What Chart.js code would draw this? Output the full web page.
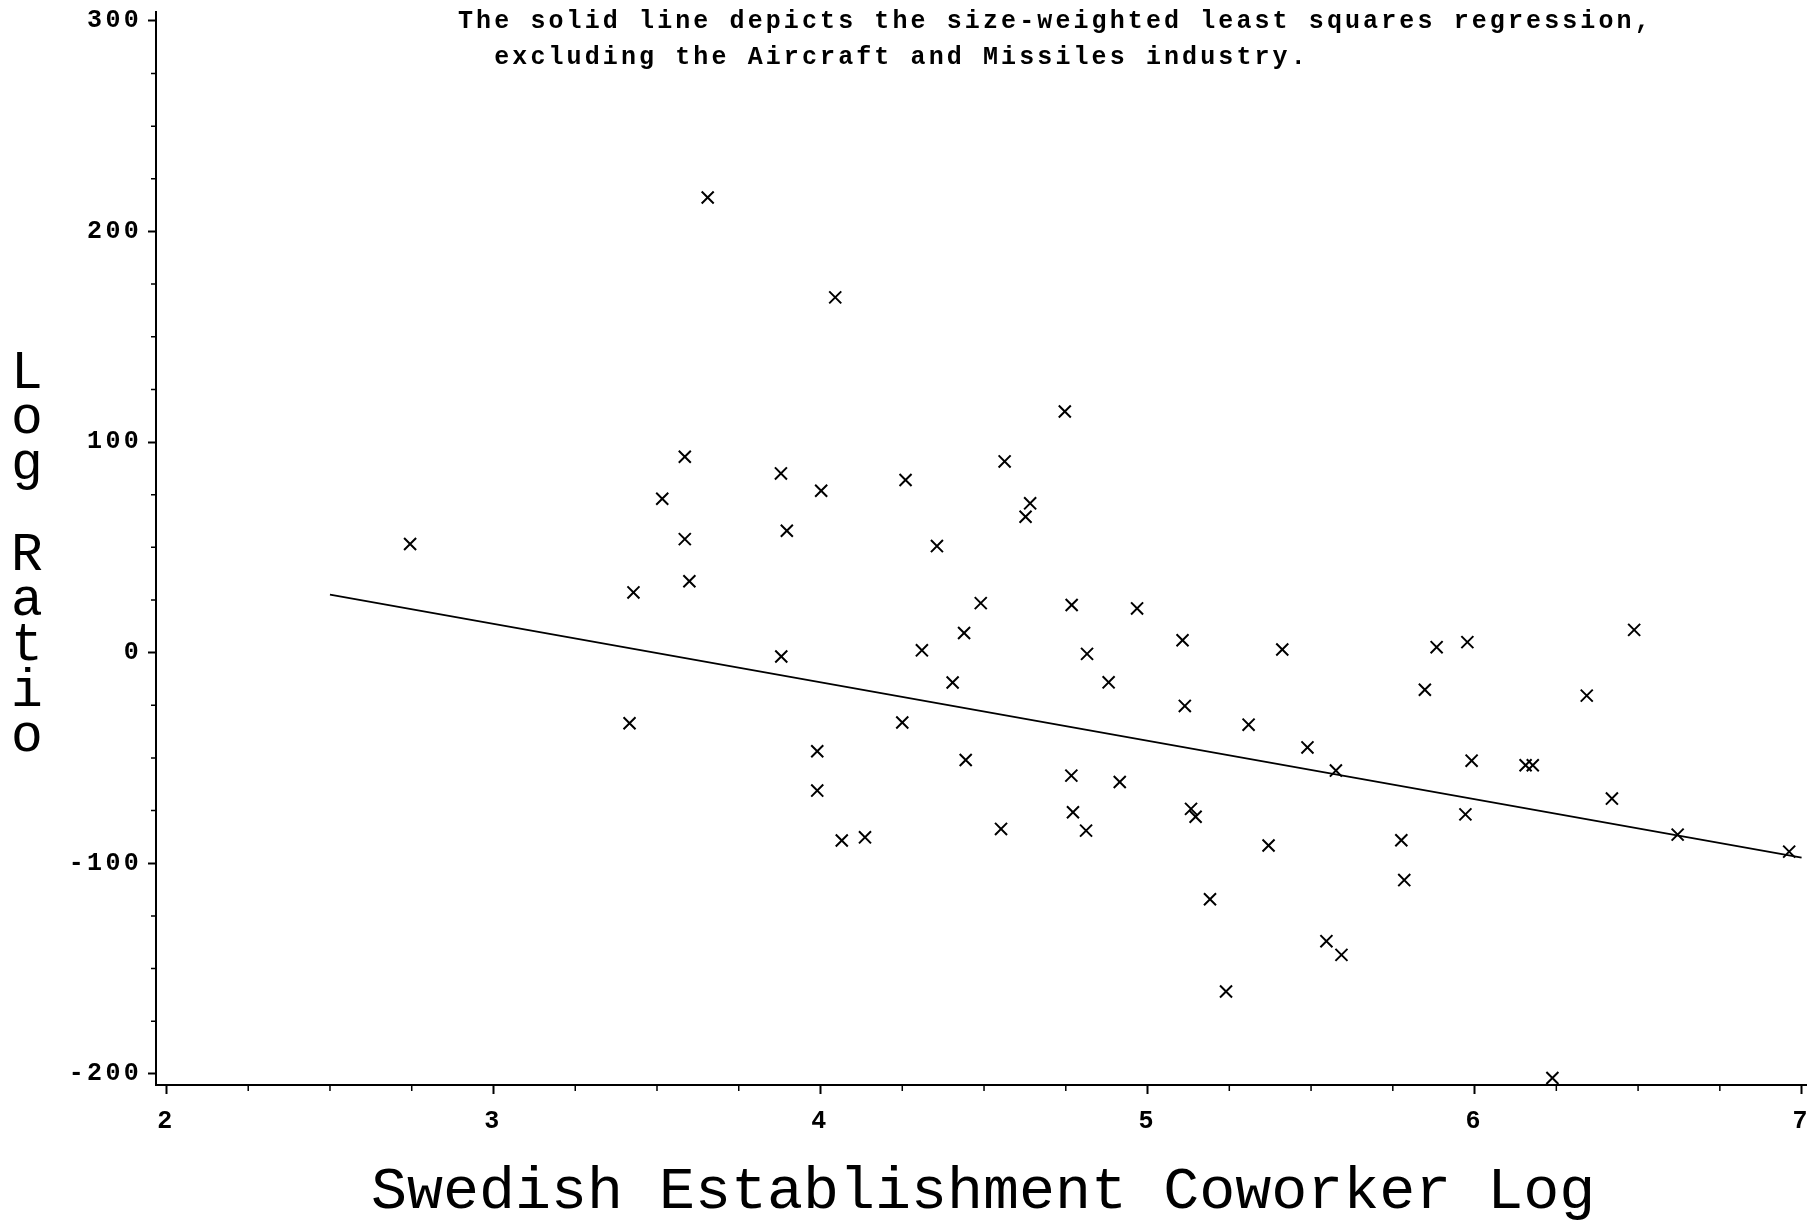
<!DOCTYPE html>
<html>
<head>
<meta charset="utf-8">
<script src="https://cdn.jsdelivr.net/npm/chart.js@4/dist/chart.umd.min.js"></script>
<style>
html,body{margin:0;padding:0;background:#fff;}
#wrap{position:relative;width:1817px;height:1221px;overflow:hidden;background:#fff;}
#c{position:absolute;left:0;top:0;}
.note{position:absolute;left:458px;top:4px;font-family:"Courier New",Courier,"Nimbus Mono PS",FreeMono,"Liberation Mono",monospace;font-weight:bold;font-size:25px;letter-spacing:3.1px;line-height:35.5px;white-space:pre;color:#000;}
.xt{position:absolute;left:371px;top:1162px;font-family:"Courier New",Courier,"Nimbus Mono PS",FreeMono,"Liberation Mono",monospace;font-size:60px;line-height:60px;white-space:pre;color:#000;}
.yt{position:absolute;left:0;top:352px;width:54px;text-align:center;font-family:"Courier New",Courier,"Nimbus Mono PS",FreeMono,"Liberation Mono",monospace;font-size:53px;line-height:45.4px;white-space:pre;color:#000;}
</style>
</head>
<body>
<div id="wrap">
<canvas id="c" width="1817" height="1221"></canvas>
<div class="note" id="note"></div>
<div class="xt" id="xt"></div>
<div class="yt" id="yt"></div>
</div>
<script>
// ---- data ----
const xValues = [2.745, 3.655, 4.045, 3.428, 3.416, 3.516, 3.585, 3.585, 3.599, 3.879,
  3.897, 4.002, 3.880, 3.990, 3.990, 4.065, 4.136, 4.260, 4.250, 4.310,
  4.356, 4.404, 4.439, 4.444, 4.490, 4.552, 4.563, 4.627, 4.641, 4.747,
  4.768, 4.767, 4.772, 4.812, 4.815, 4.881, 4.915, 4.968, 5.107, 5.114,
  5.133, 5.147, 5.191, 5.240, 5.309, 5.370, 5.412, 5.489, 5.547, 5.576,
  5.593, 5.776, 5.785, 5.848, 5.884, 5.972, 5.978, 5.991, 6.156, 6.178,
  6.238, 6.343, 6.420, 6.488, 6.621, 6.962];
const yValues = [51.6, 216.1, 168.7, 28.6, -33.5, 73.1, 93.0, 53.9, 33.9, 85.1,
  57.9, 76.9, -1.8, -46.8, -65.5, -89.2, -87.7, 82.0, -33.2, 1.1,
  50.6, -14.2, 9.3, -51.0, 23.5, -83.7, 90.8, 64.5, 70.9, 114.5,
  22.6, -58.4, -75.8, -84.5, -0.6, -14.1, -61.4, 21.0, 5.9, -25.3,
  -74.2, -77.9, -117.1, -160.9, -34.2, -91.6, 1.5, -45.0, -137.0, -56.0,
  -143.5, -89.1, -108.0, -17.6, 2.6, -76.8, 5.0, -51.3, -53.5, -53.5,
  -202.0, -20.4, -69.3, 10.8, -86.4, -94.5];
const fitX = [2.5, 7.0];
const fitY = [27.5, -97.3];
const xTickValues = [2, 3, 4, 5, 6, 7];
const yTickValues = [-200, -100, 0, 100, 200, 300];
const xMinorStep = 0.25;
const yMinorStep = 25;
const noteText = "The solid line depicts the size-weighted least squares regression,\n  excluding the Aircraft and Missiles industry.";
const xTitle = "Swedish Establishment Coworker Log";
const yTitle = "Log Ratio";

document.getElementById('note').textContent = noteText;
document.getElementById('xt').textContent = xTitle;
document.getElementById('yt').textContent = yTitle.split('').join('\n');

const tickFont = {family: 'Liberation Mono', size: 25, weight: 'bold'};

const axisExtras = {
  id: 'axisExtras',
  beforeDraw(chart) { chart.ctx.letterSpacing = '3.3px'; },
  afterDraw(chart) {
    const ctx = chart.ctx;
    ctx.letterSpacing = '0px';
    const xs = chart.scales.x, ys = chart.scales.y;
    ctx.save();
    ctx.strokeStyle = '#000';
    ctx.lineWidth = 1.5;
    ctx.beginPath();
    const xk0 = Math.ceil(xs.min / xMinorStep), xk1 = Math.floor(xs.max / xMinorStep);
    for (let k = xk0; k <= xk1; k++) {
      const v = k * xMinorStep;
      if (Math.abs(v - Math.round(v)) < 1e-9) continue;
      const px = xs.getPixelForValue(v);
      ctx.moveTo(px, xs.top); ctx.lineTo(px, xs.top + 6);
    }
    const yk0 = Math.ceil(ys.min / yMinorStep), yk1 = Math.floor(ys.max / yMinorStep);
    for (let k = yk0; k <= yk1; k++) {
      const v = k * yMinorStep;
      if (v % 100 === 0) continue;
      const py = ys.getPixelForValue(v);
      ctx.moveTo(ys.right - 5, py); ctx.lineTo(ys.right, py);
    }
    ctx.stroke();
    ctx.restore();
  }
};

new Chart(document.getElementById('c'), {
  type: 'scatter',
  data: {
    datasets: [
      {
        type: 'scatter',
        data: xValues.map((x, i) => ({x: x, y: yValues[i]})),
        pointStyle: 'crossRot',
        pointRadius: 8.5,
        pointHoverRadius: 8.5,
        borderWidth: 2,
        pointBorderWidth: 2,
        borderColor: '#000',
        backgroundColor: '#000'
      },
      {
        type: 'line',
        data: fitX.map((x, i) => ({x: x, y: fitY[i]})),
        borderColor: '#000',
        borderWidth: 1.8,
        pointRadius: 0,
        fill: false,
        tension: 0
      }
    ]
  },
  options: {
    responsive: false,
    devicePixelRatio: 1,
    animation: false,
    layout: {padding: {top: 12, right: 7, bottom: 0, left: 0}},
    plugins: {legend: {display: false}, tooltip: {enabled: false}, title: {display: false}},
    scales: {
      x: {
        type: 'linear', position: 'bottom', min: 1.968, max: 7.015,
        afterBuildTicks: s => { s.ticks = xTickValues.map(v => ({value: v})); },
        afterFit: s => { s.height = 136; s.paddingLeft = 0; s.paddingRight = 0; },
        grid: {display: true, drawOnChartArea: false, drawTicks: true, tickLength: 9, tickWidth: 2, tickColor: '#000', color: '#000'},
        border: {display: true, color: '#000', width: 2},
        ticks: {color: '#000', font: tickFont, padding: 13, maxRotation: 0, autoSkip: false, callback: v => String(v)},
        title: {display: false}
      },
      y: {
        type: 'linear', position: 'left', min: -205.3, max: 304.2,
        afterBuildTicks: s => { s.ticks = yTickValues.map(v => ({value: v})); },
        afterFit: s => { s.width = 156; s.paddingTop = 0; s.paddingBottom = 0; },
        grid: {display: true, drawOnChartArea: false, drawTicks: true, tickLength: 8, tickWidth: 2, tickColor: '#000', color: '#000'},
        border: {display: true, color: '#000', width: 2},
        ticks: {color: '#000', font: tickFont, padding: 6, autoSkip: false, callback: v => String(v)},
        title: {display: false}
      }
    }
  },
  plugins: [axisExtras]
});
</script>
</body>
</html>
